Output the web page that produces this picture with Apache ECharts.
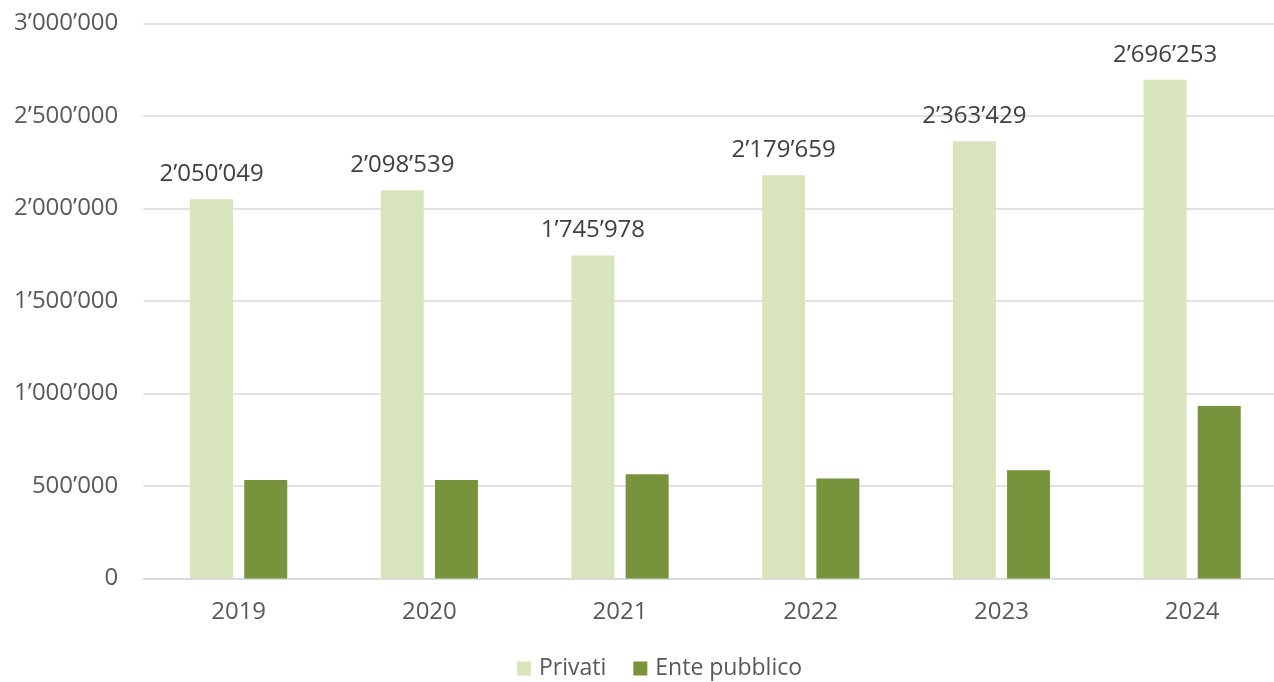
<!DOCTYPE html>
<html><head><meta charset="utf-8">
<script src="https://cdn.jsdelivr.net/npm/echarts@6/dist/echarts.min.js"></script>
<style>html,body{margin:0;padding:0;background:#fff}#c{width:1274px;height:682px}</style>
</head><body><div id="c"></div>
<script>
const categories = ['2019','2020','2021','2022','2023','2024'];
const privati = [2050049, 2098539, 1745978, 2179659, 2363429, 2696253];
const entePubblico = [533000, 533000, 564000, 540000, 585000, 932000];
const seriesNames = ['Privati', 'Ente pubblico'];

function fmt(v){
  return String(Math.round(v)).replace(/\B(?=(\d{3})+(?!\d))/g, '\u2019');
}
const font = '"Open Sans", "Liberation Sans", sans-serif';
const chart = echarts.init(document.getElementById('c'), null, {renderer:'canvas'});
chart.setOption({
  animation:false,
  textStyle:{fontFamily:font},
  grid:{left:143.3, top:23.5, width:1144.2, height:555, containLabel:false, outerBoundsMode:'none'},
  legend:{
    data:seriesNames, top:655, left:515, padding:[2,2,2,2],
    itemWidth:14, itemHeight:14, itemGap:27, icon:'rect',
    textStyle:{fontSize:23, color:'#595959', fontFamily:font, padding:[0,0,0,3]}
  },
  xAxis:{
    type:'category', data:categories,
    axisLine:{lineStyle:{color:'#D9D9D9', width:1.5}},
    axisTick:{show:false},
    axisLabel:{fontSize:24, color:'#595959', margin:22, fontFamily:font}
  },
  yAxis:{
    type:'value', min:0, max:3000000, interval:500000,
    axisLine:{show:false}, axisTick:{show:false},
    splitLine:{lineStyle:{color:'#D9D9D9', width:1.5}},
    axisLabel:{fontSize:24, color:'#595959', margin:25, fontFamily:font, formatter:fmt}
  },
  series:[
    {name:seriesNames[0], type:'bar', data:privati, barWidth:43, barGap:'26%',
     itemStyle:{color:'#D8E4BC'},
     label:{show:true, position:'top', distance:13, fontSize:24, color:'#404040', fontFamily:font,
       formatter:p=>fmt(p.value)}},
    {name:seriesNames[1], type:'bar', data:entePubblico, barWidth:43,
     itemStyle:{color:'#77933C'}}
  ]
});
</script></body></html>
